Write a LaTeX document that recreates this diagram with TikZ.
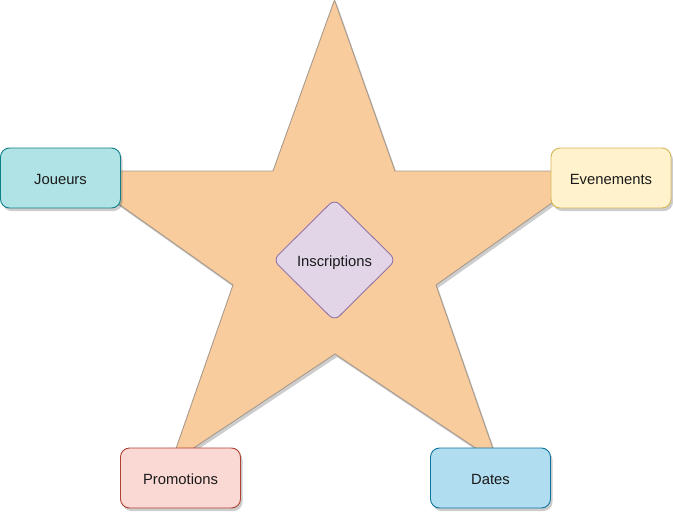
\documentclass[tikz,border=0pt]{standalone}
\usepackage{fontspec}
\setmainfont{Liberation Sans}
\usetikzlibrary{shapes.geometric,shadows}
\definecolor{starfill}{HTML}{F9CC9D}
\definecolor{starline}{HTML}{A89A8C}
\definecolor{jfill}{HTML}{B0E3E6}
\definecolor{jline}{HTML}{0E8088}
\definecolor{efill}{HTML}{FFF2CC}
\definecolor{eline}{HTML}{D6B656}
\definecolor{pfill}{HTML}{FAD9D5}
\definecolor{pline}{HTML}{AE4132}
\definecolor{dfill}{HTML}{B1DDF0}
\definecolor{dline}{HTML}{10739E}
\definecolor{ifill}{HTML}{E1D5E7}
\definecolor{iline}{HTML}{9673A6}
\definecolor{txt}{HTML}{1A1A1A}
\newcommand{\lowtxt}[2]{\raisebox{-#1}[\height][\depth]{#2}}
\begin{document}
\begin{tikzpicture}[x=1pt,y=-1pt,
  shad/.style={drop shadow={shadow xshift=2pt, shadow yshift=-3pt, opacity=0.28, fill=black!70}},
  lbl/.style={text=txt, font=\fontsize{14.8}{17}\selectfont},
  box/.style={draw, rounded corners=9pt, minimum width=120pt, minimum height=60pt,
    inner sep=0pt, lbl, line width=0.9pt, shad},
  dia/.style={diamond, draw=iline, fill=ifill, rounded corners=7pt, minimum width=123pt,
    minimum height=122pt, inner sep=0pt, lbl, line width=0.9pt}
  ]
\useasboundingbox (0,0) rectangle (673,512);
\draw[draw=starline, fill=starfill, line width=0.9pt, shad]
  (334.5,0) -- (395,171) -- (597,171) -- (436,285) -- (498,463) -- (335,354)
  -- (171,463) -- (233,285) -- (72,171) -- (273,171) -- cycle;
\node[box, fill=jfill, draw=jline] (joueurs) at (60.5,178) {\lowtxt{1.5pt}{Joueurs}};
\node[box, fill=efill, draw=eline] (evenements) at (611,178) {\lowtxt{1.5pt}{Evenements}};
\node[box, fill=pfill, draw=pline] (promotions) at (180.5,478) {\lowtxt{1.5pt}{Promotions}};
\node[box, fill=dfill, draw=dline] (dates) at (490.5,478) {\lowtxt{1.5pt}{Dates}};
\node[dia] (inscriptions) at (334.5,260) {\lowtxt{2.5pt}{Inscriptions}};
\end{tikzpicture}
\end{document}
